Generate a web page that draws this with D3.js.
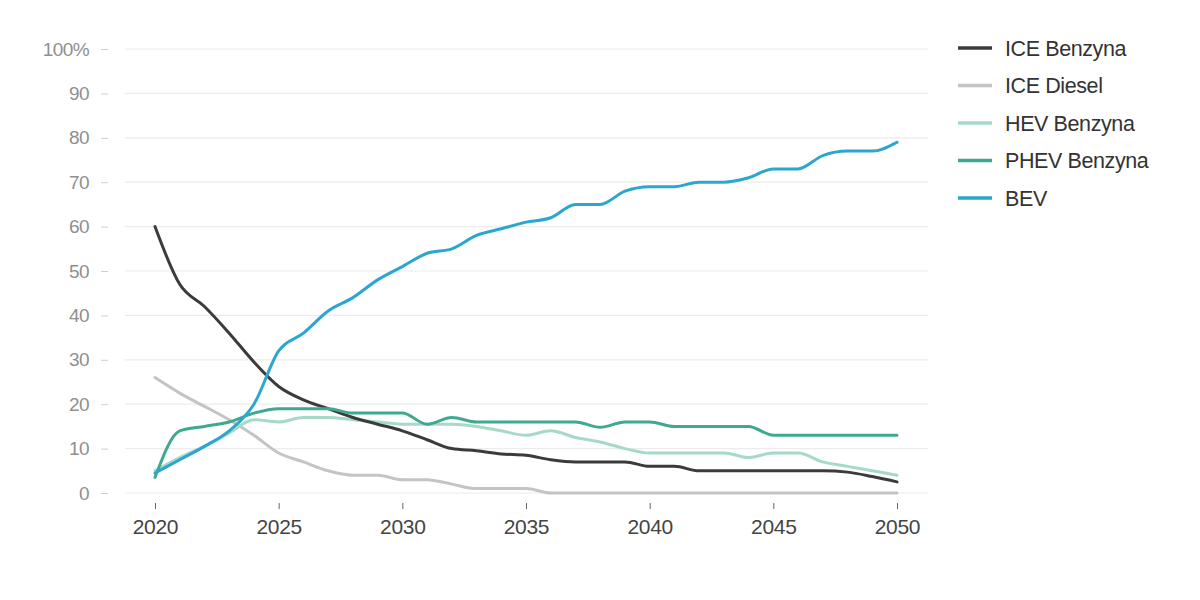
<!DOCTYPE html>
<html>
<head>
<meta charset="utf-8">
<script src="https://cdn.jsdelivr.net/npm/d3@7"></script>
<style>
  html, body { margin: 0; padding: 0; background: #fff; }
  svg { display: block; font-family: "Liberation Sans", Arial, sans-serif; }
</style>
</head>
<body>
<svg id="chart" width="1200" height="600"></svg>
<script>
const years = d3.range(2020, 2051);
const iceBenzyna = [60, 47, 42, 36, 29.5, 24, 21, 19, 17, 15.5, 14, 12, 10, 9.5, 8.8, 8.5, 7.5, 7, 7, 7, 6, 6, 5, 5, 5, 5, 5, 5, 4.7, 3.7, 2.5];
const iceDiesel = [26, 22.5, 19.5, 16.5, 13, 9, 7, 5, 4, 4, 3, 3, 2, 1, 1, 1, 0, 0, 0, 0, 0, 0, 0, 0, 0, 0, 0, 0, 0, 0, 0];
const hevBenzyna = [5, 8, 10.5, 13.5, 16.5, 16, 17, 17, 16.5, 16, 15.5, 15.5, 15.5, 15, 14, 13, 14, 12.5, 11.5, 10, 9, 9, 9, 9, 8, 9, 9, 7, 6, 5, 4];
const phevBenzyna = [3.5, 14, 15, 16, 18, 19, 19, 19, 18, 18, 18, 15.5, 17, 16, 16, 16, 16, 16, 14.8, 16, 16, 15, 15, 15, 15, 13, 13, 13, 13, 13, 13];
const bev = [4.5, 7.5, 10.5, 14, 20, 32, 36, 41, 44, 48, 51, 54, 55, 58, 59.5, 61, 62, 65, 65, 68, 69, 69, 70, 70, 71, 73, 73, 76, 77, 77, 79];
const seriesNames = ["ICE Benzyna", "ICE Diesel", "HEV Benzyna", "PHEV Benzyna", "BEV"];
const seriesColors = ["#3b3b3b", "#c4c4c4", "#a6dac6", "#3fa98f", "#2ba7cf"];
const yTicks = [0, 10, 20, 30, 40, 50, 60, 70, 80, 90, 100];
const xTicks = [2020, 2025, 2030, 2035, 2040, 2045, 2050];

const seriesValues = [iceBenzyna, iceDiesel, hevBenzyna, phevBenzyna, bev];
const series = seriesNames.map((name, i) => ({
  name, color: seriesColors[i],
  values: years.map((y, j) => ({ year: y, v: seriesValues[i][j] }))
}));

const svg = d3.select("#chart");
const x = d3.scaleLinear().domain([2020, 2050]).range([155, 897]);
const y = d3.scaleLinear().domain([0, 100]).range([493, 49]);

// gridlines
svg.append("g").selectAll("line").data(yTicks).join("line")
  .attr("x1", 125).attr("x2", 928)
  .attr("y1", d => y(d)).attr("y2", d => y(d))
  .attr("stroke", "#ececec").attr("stroke-width", 1.2);

// y axis
const yAxis = d3.axisLeft(y).tickValues(yTicks)
  .tickFormat(d => d === 100 ? "100%" : d)
  .tickSize(7).tickPadding(12);
const gy = svg.append("g").attr("transform", "translate(108,0)").call(yAxis);
gy.select(".domain").remove();
gy.selectAll(".tick line").attr("stroke", "#cfcfcf");
gy.selectAll(".tick text").attr("fill", "#8f8f8f").attr("font-size", 19).attr("letter-spacing", -0.6);

// x axis
const xAxis = d3.axisBottom(x).tickValues(xTicks).tickFormat(d3.format("d"))
  .tickSize(6).tickPadding(10);
const gx = svg.append("g").attr("transform", "translate(0,503)").call(xAxis);
gx.select(".domain").remove();
gx.selectAll(".tick line").attr("stroke", "#666");
gx.selectAll(".tick text").attr("fill", "#444").attr("font-size", 21).attr("letter-spacing", -0.3);

// lines
const line = d3.line().x(d => x(d.year)).y(d => y(d.v)).curve(d3.curveMonotoneX);
const drawOrder = [1, 2, 0, 3, 4];
svg.append("g").selectAll("path").data(drawOrder.map(i => series[i])).join("path")
  .attr("d", d => line(d.values))
  .attr("fill", "none")
  .attr("stroke", d => d.color)
  .attr("stroke-width", 3)
  .attr("stroke-linejoin", "round")
  .attr("stroke-linecap", "round");

// legend
const lg = svg.append("g").selectAll("g").data(series).join("g")
  .attr("transform", (d, i) => `translate(958,${48 + i * 37.5})`);
lg.append("line").attr("x1", 0).attr("x2", 34).attr("y1", 0).attr("y2", 0)
  .attr("stroke", d => d.color).attr("stroke-width", 3.5);
lg.append("text").attr("x", 47).attr("y", 0).attr("dy", "0.35em")
  .attr("fill", "#333").attr("font-size", 21.5).attr("letter-spacing", -0.4)
  .text(d => d.name);
</script>
</body>
</html>
